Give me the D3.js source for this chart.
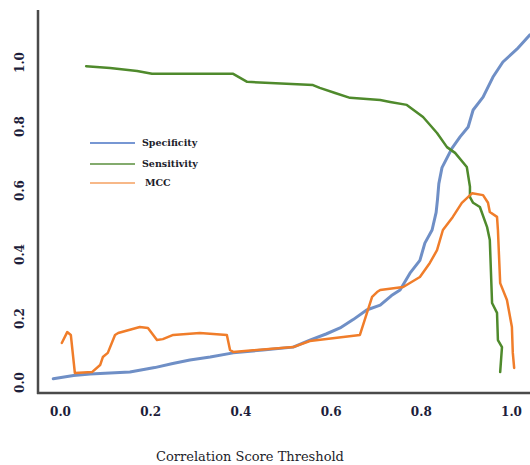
<!DOCTYPE html>
<html><head><meta charset="utf-8">
<script src="https://cdn.jsdelivr.net/npm/d3@7"></script>
<style>
body{margin:0;background:#fff;}
svg{display:block;}
</style></head>
<body>
<svg id="chart" width="530" height="465"></svg>
<script>
const xTicks = [0, 0.2, 0.4, 0.6, 0.8, 1.0];
const yTicks = [0, 0.2, 0.4, 0.6, 0.8, 1.0];
const seriesNames = ["Specificity", "Sensitivity", "MCC"];
const seriesColors = ["#6f8fc6", "#4f8a2c", "#f07d2a"];
const legendColors = ["#4a74c4", "#5a8f3c", "#f5a060"];

const specificity = [
  [-0.015,0.010],[0.03,0.020],[0.067,0.025],[0.155,0.031],[0.21,0.045],[0.25,0.058],[0.288,0.069],
  [0.333,0.078],[0.384,0.091],[0.45,0.100],[0.517,0.109],[0.554,0.131],[0.59,0.150],[0.621,0.169],
  [0.65,0.195],[0.68,0.225],[0.71,0.240],[0.735,0.270],[0.754,0.2875],[0.776,0.340],[0.798,0.380],
  [0.809,0.434],[0.825,0.475],[0.834,0.530],[0.837,0.570],[0.840,0.620],[0.847,0.670],[0.869,0.730],
  [0.887,0.766],[0.905,0.797],[0.916,0.850],[0.938,0.890],[0.960,0.953],[0.982,1.000],[1.013,1.040],[1.042,1.085]
];
const sensitivity = [
  [0.058,0.987],[0.111,0.981],[0.171,0.972],[0.204,0.963],[0.384,0.963],[0.415,0.938],[0.443,0.936],
  [0.561,0.928],[0.576,0.919],[0.610,0.903],[0.643,0.888],[0.71,0.881],[0.732,0.875],[0.769,0.866],[0.805,0.828],
  [0.836,0.778],[0.858,0.734],[0.876,0.716],[0.902,0.672],[0.909,0.610],[0.909,0.578],[0.916,0.560],
  [0.931,0.547],[0.947,0.484],[0.953,0.444],[0.958,0.247],[0.969,0.216],[0.971,0.131],[0.980,0.109],[0.976,0.031]
];
const mcc = [
  [0.004,0.122],[0.016,0.156],[0.024,0.147],[0.033,0.028],[0.071,0.031],[0.089,0.053],[0.095,0.078],
  [0.106,0.091],[0.122,0.147],[0.129,0.153],[0.177,0.172],[0.195,0.169],[0.215,0.131],[0.228,0.134],
  [0.251,0.147],[0.310,0.153],[0.370,0.147],[0.377,0.100],[0.384,0.094],[0.517,0.109],[0.554,0.128],
  [0.665,0.147],[0.692,0.266],[0.703,0.281],[0.710,0.2875],[0.761,0.297],[0.798,0.328],[0.820,0.372],
  [0.836,0.412],[0.849,0.475],[0.871,0.516],[0.891,0.560],[0.914,0.590],[0.938,0.584],[0.949,0.560],
  [0.953,0.531],[0.969,0.516],[0.971,0.475],[0.976,0.309],[0.991,0.256],[1.002,0.172],[1.004,0.091],[1.007,0.044]
];
const seriesData = [specificity, sensitivity, mcc];

const svg = d3.select("#chart");
const x = d3.scaleLinear().domain([0, 1]).range([60, 511]);
const y = d3.scaleLinear().domain([0, 1]).range([382, 62]);
const fmt = d3.format(".1f");
const tickFont = "'DejaVu Serif', serif";

// axes
const gx = svg.append("g").attr("transform", "translate(0,393)")
  .call(d3.axisBottom(x).tickValues(xTicks).tickSize(0).tickPadding(14).tickFormat(fmt));
gx.select(".domain").remove();
gx.selectAll("text").attr("font-family", tickFont).attr("font-size", 12).attr("font-weight", "bold").attr("fill", "#1d1d3a");

const gy = svg.append("g").attr("transform", "translate(38,0)")
  .call(d3.axisLeft(y).tickValues(yTicks).tickSize(0).tickPadding(0).tickFormat(fmt));
gy.select(".domain").remove();
gy.selectAll(".tick text")
  .attr("x", 0).attr("dy", null)
  .attr("transform", "translate(-18,0) rotate(-90)")
  .attr("text-anchor", "middle").attr("dominant-baseline", "central")
  .attr("font-family", tickFont).attr("font-size", 12).attr("font-weight", "bold").attr("fill", "#1d1d3a");

// frame lines
svg.append("line").attr("x1", 38).attr("x2", 38).attr("y1", 10).attr("y2", 394)
  .attr("stroke", "#4a4a4a").attr("stroke-width", 2.5);
svg.append("line").attr("x1", 37).attr("x2", 530).attr("y1", 393).attr("y2", 393)
  .attr("stroke", "#4a4a4a").attr("stroke-width", 2.5);

// lines
const line = d3.line().x(d => x(d[0])).y(d => y(d[1])).curve(d3.curveLinear);
const widths = [3, 2.5, 2.5];
seriesData.forEach((data, i) => {
  svg.append("path").datum(data).attr("d", line)
    .attr("fill", "none").attr("stroke", seriesColors[i]).attr("stroke-width", widths[i])
    .attr("stroke-linejoin", "round").attr("stroke-linecap", "round");
});

// legend
const legY = [143, 164, 183];
const legTextX = [142, 142, 145];
seriesNames.forEach((n, i) => {
  svg.append("line").attr("x1", 90).attr("x2", 135).attr("y1", legY[i]).attr("y2", legY[i])
    .attr("stroke", legendColors[i]).attr("stroke-width", 1.5);
  svg.append("text").attr("x", legTextX[i]).attr("y", legY[i] - 1)
    .attr("dominant-baseline", "central")
    .attr("font-family", tickFont).attr("font-size", 9.5).attr("font-weight", "bold")
    .attr("fill", "#1d1d2a").text(n);
});

// x title
svg.append("text").attr("x", 250).attr("y", 461).attr("text-anchor", "middle")
  .attr("font-family", tickFont).attr("font-size", 13).attr("fill", "#1d1d2a")
  .text("Correlation Score Threshold");
</script>
</body></html>
